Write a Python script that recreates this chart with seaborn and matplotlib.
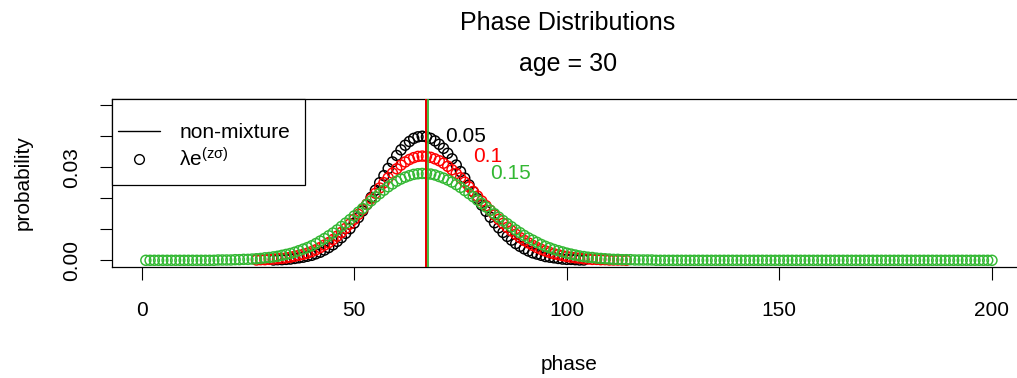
import pandas as pd
import matplotlib.pyplot as plt
import seaborn as sns
from matplotlib.lines import Line2D
from matplotlib.patches import Rectangle

# sigma levels of the mixture and their colours
sigma_labels = ["0.05", "0.1", "0.15"]
colors = ["black", "#FF0000", "#33B833"]

# probability per phase
black_start = 31
black_prob = [
    0.0001, 0.0002, 0.0002, 0.0003, 0.0004, 0.0006, 0.0008, 0.0010, 0.0013, 0.0016,
    0.0021, 0.0026, 0.0033, 0.0041, 0.0050, 0.0061, 0.0073, 0.0087, 0.0102, 0.0120,
    0.0138, 0.0159, 0.0180, 0.0203, 0.0226, 0.0250, 0.0273, 0.0296, 0.0317, 0.0338,
    0.0356, 0.0371, 0.0383, 0.0393, 0.0398, 0.0400,
    0.0398, 0.0393, 0.0385, 0.0374, 0.0361, 0.0345, 0.0327, 0.0307, 0.0286, 0.0265,
    0.0243, 0.0221, 0.0199, 0.0178, 0.0158, 0.0139, 0.0121, 0.0105, 0.0090, 0.0077,
    0.0065, 0.0054, 0.0045, 0.0037, 0.0030, 0.0024, 0.0020, 0.0016, 0.0012, 0.0010,
    0.0008, 0.0006, 0.0004, 0.0003, 0.0003, 0.0002, 0.0001, 0.0001,
]

red_start = 27
red_prob = [
    0.0001, 0.0002, 0.0002, 0.0003, 0.0004, 0.0005, 0.0006, 0.0008, 0.0010, 0.0013,
    0.0016, 0.0019, 0.0023, 0.0028, 0.0034, 0.0041, 0.0049, 0.0057, 0.0067, 0.0078,
    0.0090, 0.0103, 0.0117, 0.0132, 0.0148, 0.0164, 0.0181, 0.0199, 0.0216, 0.0233,
    0.0250, 0.0266, 0.0281, 0.0295, 0.0307, 0.0317, 0.0325, 0.0331, 0.0335, 0.0336,
    0.0335, 0.0332, 0.0327, 0.0321, 0.0313, 0.0303, 0.0292, 0.0280, 0.0266, 0.0252,
    0.0237, 0.0222, 0.0207, 0.0191, 0.0176, 0.0161, 0.0146, 0.0132, 0.0119, 0.0106,
    0.0095, 0.0084, 0.0073, 0.0064, 0.0056, 0.0048, 0.0041, 0.0035, 0.0030, 0.0025,
    0.0021, 0.0018, 0.0015, 0.0012, 0.0010, 0.0008, 0.0007, 0.0005, 0.0004, 0.0003,
    0.0003, 0.0002, 0.0002, 0.0001, 0.0001, 0.0001, 0.0001, 0.0000,
]

green_start = 1
green_prob = [0.0] * 17 + [
    0.0001, 0.0001, 0.0001, 0.0001, 0.0002, 0.0002, 0.0003, 0.0003, 0.0004, 0.0005,
    0.0006, 0.0008, 0.0009, 0.0011, 0.0013, 0.0016, 0.0019, 0.0022, 0.0026, 0.0031,
    0.0036, 0.0041, 0.0047, 0.0054, 0.0062, 0.0070, 0.0079, 0.0088, 0.0098, 0.0109,
    0.0120, 0.0131, 0.0143, 0.0155, 0.0167, 0.0180, 0.0192, 0.0204, 0.0215, 0.0226,
    0.0237, 0.0246, 0.0255, 0.0262, 0.0268, 0.0273, 0.0277, 0.0279, 0.0280,
    0.0279, 0.0278, 0.0275, 0.0270, 0.0265, 0.0259, 0.0252, 0.0244, 0.0235, 0.0225,
    0.0215, 0.0205, 0.0194, 0.0183, 0.0172, 0.0161, 0.0150, 0.0139, 0.0128, 0.0118,
    0.0108, 0.0098, 0.0089, 0.0080, 0.0072, 0.0065, 0.0058, 0.0051, 0.0045, 0.0040,
    0.0035, 0.0031, 0.0027, 0.0023, 0.0020, 0.0017, 0.0014, 0.0012, 0.0010, 0.0009,
    0.0007, 0.0006, 0.0005, 0.0004, 0.0003, 0.0003, 0.0002, 0.0002, 0.0002, 0.0001,
    0.0001, 0.0001, 0.0001, 0.0001,
] + [0.0] * 80

# vertical lines (means) and where the sigma labels sit
mean_phase = [66.8, 66.8, 67.4]
label_phase = [71.3, 77.9, 81.9]
label_prob = [0.0400, 0.0336, 0.0280]

starts = [black_start, red_start, green_start]
probs = [black_prob, red_prob, green_prob]
frames = []
for lab, st, pr in zip(sigma_labels, starts, probs):
    frames.append(pd.DataFrame({"phase": range(st, st + len(pr)), "probability": pr, "sigma": lab}))
df = pd.concat(frames, ignore_index=True)

sns.set_theme(style="ticks")
plt.rcParams["font.family"] = ["Liberation Sans", "DejaVu Sans"]
plt.rcParams["mathtext.fontset"] = "custom"
plt.rcParams["mathtext.rm"] = "Liberation Sans"
plt.rcParams["mathtext.it"] = "Liberation Sans"
plt.rcParams["mathtext.default"] = "regular"
plt.rcParams["text.color"] = "black"
plt.rcParams["axes.labelcolor"] = "black"

W, H = 1017, 378
fig = plt.figure(figsize=(W / 100, H / 100), dpi=100)
ax = fig.add_axes([112 / W, (H - 266.5) / H, 913.8 / W, 167.5 / H])

for lab, col in zip(sigma_labels, colors):
    sub = df[df["sigma"] == lab]
    sns.scatterplot(data=sub, x="phase", y="probability", ax=ax, marker="o", s=52,
                    facecolor="none", edgecolor=col, linewidth=1.05, legend=False, zorder=3)

for mp, col in zip(mean_phase, colors):
    ax.axvline(mp, color=col, lw=1.3, zorder=4)

for lab, col, lx, ly in zip(sigma_labels, colors, label_phase, label_prob):
    ax.text(lx, ly, lab, color=col, fontsize=15, ha="left", va="center", zorder=5)

ax.set_xlim(-6.96, 207.96)
ax.set_ylim(-0.002, 0.052)
ax.set_xticks([0, 50, 100, 150, 200])
ax.set_yticks([0.00, 0.01, 0.02, 0.03, 0.04, 0.05])
ax.set_yticklabels(["0.00", "", "", "0.03", "", ""], rotation=90, va="center")
ax.tick_params(axis="both", direction="out", length=9, width=0.8, color="black",
               labelsize=15, labelcolor="black")
ax.tick_params(axis="x", pad=16)
ax.tick_params(axis="y", pad=13)
for side in ["left", "top", "bottom"]:
    ax.spines[side].set_color("black")
    ax.spines[side].set_linewidth(0.9)
ax.spines["right"].set_visible(False)

ax.set_xlabel("phase", fontsize=15)
ax.set_ylabel("probability", fontsize=15)
ax.xaxis.set_label_coords(0.5, -0.53)
ax.yaxis.set_label_coords(-0.087, 0.5)

# legend box drawn by hand (R style: taller top padding than matplotlib gives)
box = Rectangle((0, 1 - 86 / 167.5), 193 / 913.8, 86 / 167.5, transform=ax.transAxes,
                facecolor="white", edgecolor="black", lw=0.9, zorder=6, clip_on=False)
ax.add_patch(box)
handles = [
    Line2D([], [], color="black", lw=1),
    Line2D([], [], ls="none", marker="o", mfc="none", mec="black", ms=7, mew=1.0),
]
leg = ax.legend(handles, ["non-mixture", r"$\lambda e^{(z\sigma)}$"], loc="center left",
                bbox_to_anchor=(6 / 913.8, (266.5 - 147) / 167.5), borderaxespad=0,
                borderpad=0, fontsize=15, frameon=False,
                handlelength=2.0, handletextpad=0.95, labelspacing=0.25)
leg.set_zorder(7)

fig.text(568 / W, 1 - 30 / H, "Phase Distributions", fontsize=18, ha="center", va="baseline")
fig.text(568 / W, 1 - 71 / H, "age = 30", fontsize=18, ha="center", va="baseline")

fig.savefig("out.png", dpi=100)
